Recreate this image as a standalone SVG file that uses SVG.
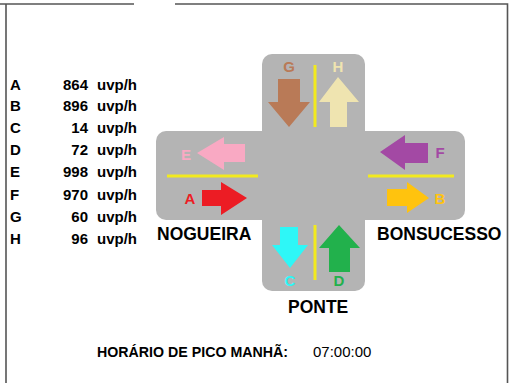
<svg xmlns="http://www.w3.org/2000/svg" width="509" height="383" viewBox="0 0 509 383">
<style>
.frame{stroke:#555;stroke-width:1.6;fill:none}
.tbl{font-family:"Liberation Sans",Arial,sans-serif;font-weight:bold;font-size:15px;fill:#000}
.road{fill:#B4B4B4}
.lane{stroke:#F2EA1E;stroke-width:3;fill:none}
.lbl{font-family:"Liberation Sans",Arial,sans-serif;font-weight:bold;font-size:15px;text-anchor:middle}
.name{font-family:"Liberation Sans",Arial,sans-serif;font-weight:bold;font-size:17.5px;fill:#000}
</style>
<rect width="509" height="383" fill="#fff"/>
<g id="frame">
<path class="frame" d="M0 4H134M175 4H507.5V383M6 4V383"/>
</g>
<g id="table">
<text class="tbl" x="10" y="90">A</text><text class="tbl" x="88" y="90" text-anchor="end">864</text><text class="tbl" x="97" y="90">uvp/h</text>
<text class="tbl" x="10" y="111">B</text><text class="tbl" x="88" y="111" text-anchor="end">896</text><text class="tbl" x="97" y="111">uvp/h</text>
<text class="tbl" x="10" y="133">C</text><text class="tbl" x="88" y="133" text-anchor="end">14</text><text class="tbl" x="97" y="133">uvp/h</text>
<text class="tbl" x="10" y="155">D</text><text class="tbl" x="88" y="155" text-anchor="end">72</text><text class="tbl" x="97" y="155">uvp/h</text>
<text class="tbl" x="10" y="177">E</text><text class="tbl" x="88" y="177" text-anchor="end">998</text><text class="tbl" x="97" y="177">uvp/h</text>
<text class="tbl" x="10" y="200">F</text><text class="tbl" x="88" y="200" text-anchor="end">970</text><text class="tbl" x="97" y="200">uvp/h</text>
<text class="tbl" x="10" y="222">G</text><text class="tbl" x="88" y="222" text-anchor="end">60</text><text class="tbl" x="97" y="222">uvp/h</text>
<text class="tbl" x="10" y="244">H</text><text class="tbl" x="88" y="244" text-anchor="end">96</text><text class="tbl" x="97" y="244">uvp/h</text>
</g>
<g id="intersection">
<rect class="road" x="156" y="131" width="309" height="89" rx="10"/>
<rect class="road" x="262" y="54" width="103" height="237" rx="10"/>
<line class="lane" x1="167" y1="176" x2="258" y2="176"/>
<line class="lane" x1="368" y1="176" x2="454" y2="176"/>
<line class="lane" x1="315" y1="65" x2="315" y2="127"/>
<line class="lane" x1="315" y1="225" x2="315" y2="280"/>
</g>
<g id="arrow-E">
<polygon fill="#F9A9C3" points="197,153 224,137 224,144 245,144 245,162 224,162 224,170"/>
<text class="lbl" x="186" y="160" fill="#F9A9C3">E</text>
</g>
<g id="arrow-A">
<polygon fill="#EC1C24" points="247,198 221,182 221,190 202,190 202,206 221,206 221,215"/>
<text class="lbl" x="190" y="204" fill="#EC1C24">A</text>
</g>
<g id="arrow-F">
<polygon fill="#A349A4" points="380,152 405,135 405,143 428,143 428,163 405,163 405,170"/>
<text class="lbl" x="440" y="158" fill="#A349A4">F</text>
</g>
<g id="arrow-B">
<polygon fill="#FFC30E" points="429,198 407,182 407,189 387,189 387,206 407,206 407,213"/>
<text class="lbl" x="440" y="204" fill="#FFC30E">B</text>
</g>
<g id="arrow-G">
<polygon fill="#B97A57" points="289,127 268,102 278,102 278,79 300,79 300,102 310,102"/>
<text class="lbl" x="289" y="72" fill="#B97A57">G</text>
</g>
<g id="arrow-H">
<polygon fill="#EFE4B0" points="338,77 359,102 347,102 347,127 330,127 330,102 319,102"/>
<text class="lbl" x="338" y="72" fill="#EFE4B0">H</text>
</g>
<g id="arrow-C">
<polygon fill="#2EF7F7" points="290,268 272,245 280,245 280,227 298,227 298,245 308,245"/>
<text class="lbl" x="290" y="286" fill="#2EF7F7">C</text>
</g>
<g id="arrow-D">
<polygon fill="#22B14C" points="339,225 360,248 350,248 350,272 329,272 329,248 319,248"/>
<text class="lbl" x="339" y="286" fill="#22B14C">D</text>
</g>
<g id="names">
<text class="name" x="157" y="240">NOGUEIRA</text>
<text class="name" x="377" y="240">BONSUCESSO</text>
<text class="name" x="288" y="313">PONTE</text>
</g>
<g id="footer">
<text x="97" y="357" font-family="'Liberation Sans',Arial,sans-serif" font-weight="bold" font-size="14.5" textLength="191" lengthAdjust="spacingAndGlyphs">HORÁRIO DE PICO MANHÃ:</text>
<text x="313" y="357" font-family="'Liberation Sans',Arial,sans-serif" font-size="15">07:00:00</text>
</g>
</svg>
